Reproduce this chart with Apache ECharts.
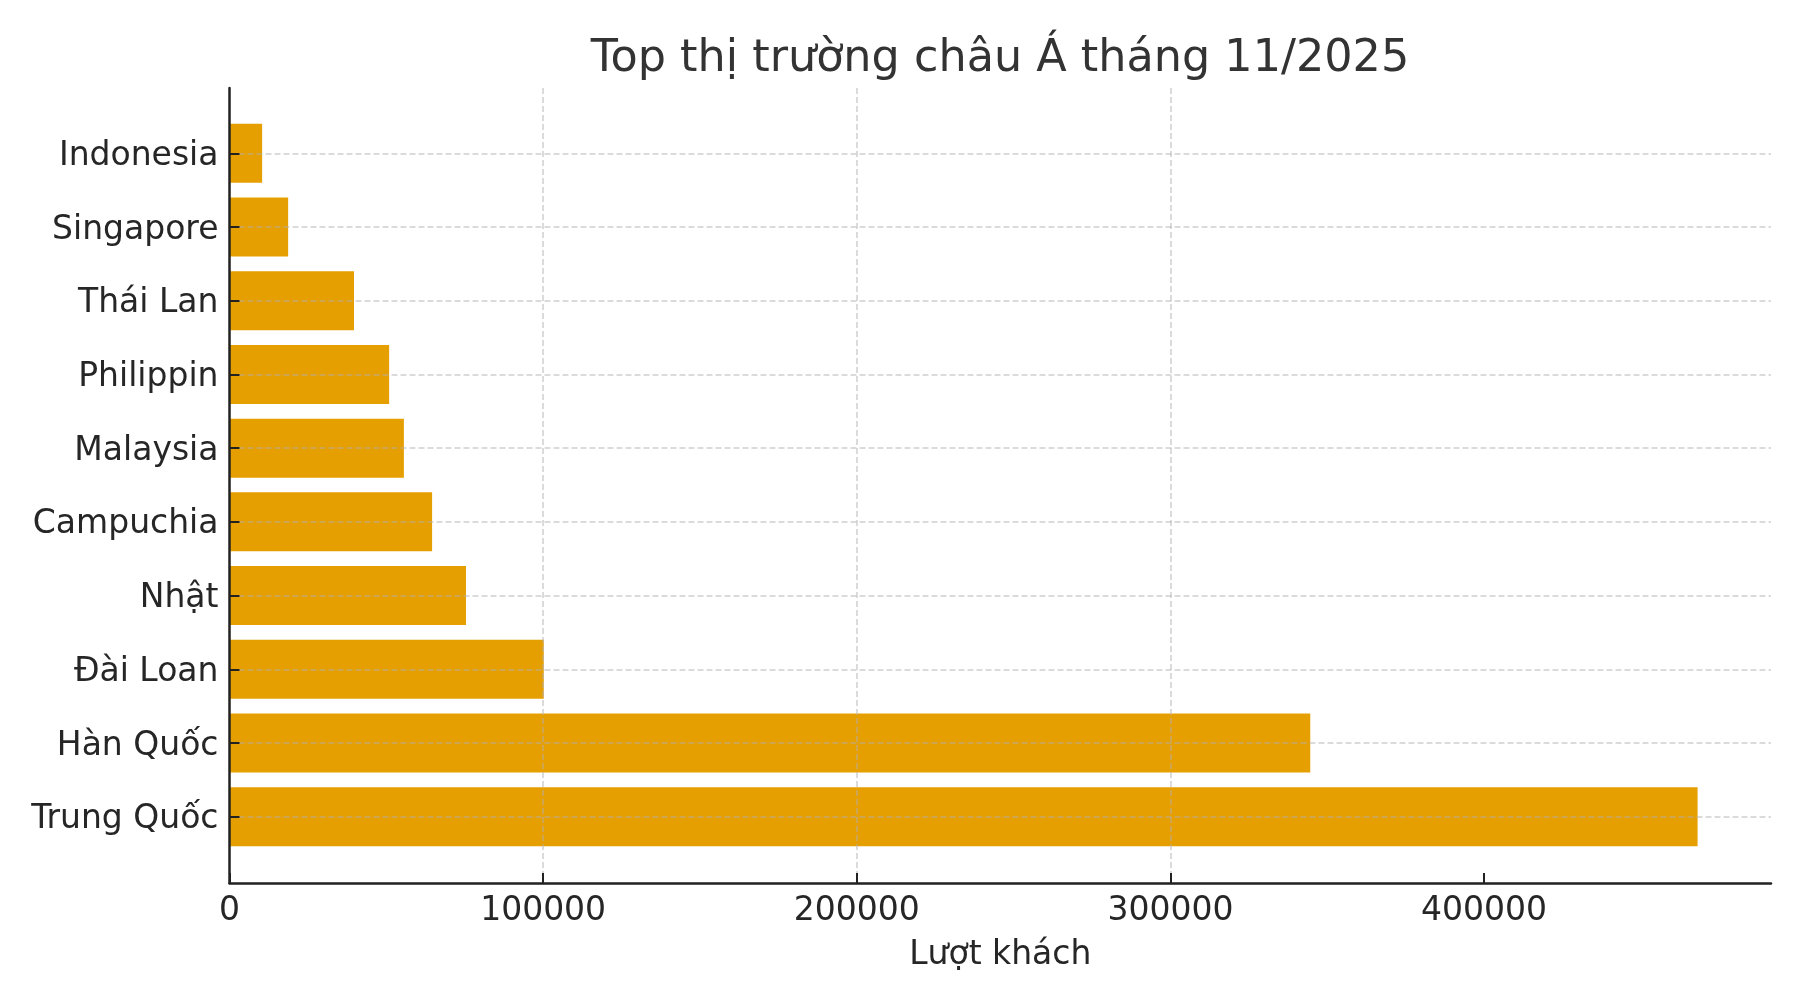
<!DOCTYPE html>
<html>
<head>
<meta charset="utf-8">
<script src="https://cdn.jsdelivr.net/npm/echarts@6/dist/echarts.min.js"></script>
<style>html,body{margin:0;padding:0;background:#fff}#c{width:1800px;height:1000px}</style>
</head>
<body>
<div id="c"></div>
<script>
const categories = ['Trung Quốc', 'Hàn Quốc', 'Đài Loan', 'Nhật', 'Campuchia', 'Malaysia', 'Philippin', 'Thái Lan', 'Singapore', 'Indonesia'];
const visitors = [468100, 344600, 100200, 75400, 64600, 55600, 50900, 39700, 18700, 10400];
const xTicks = [0, 100000, 200000, 300000, 400000];
const titleText = 'Top thị trường châu Á tháng 11/2025';
const xName = 'Lượt khách';

const xMax = Math.max(...visitors) * 1.05;
const FONT = 'DejaVu Sans';
const gridStyle = { color: 'rgba(176,176,176,0.6)', width: 1.5, type: [6, 3] };

const chart = echarts.init(document.getElementById('c'), null, { renderer: 'canvas' });
chart.setOption({
  backgroundColor: '#ffffff',
  animation: false,
  title: {
    text: titleText, left: 1000, top: 37, textAlign: 'center', padding: 0,
    textStyle: { fontFamily: FONT, fontSize: 44.5, fontWeight: 'normal', color: '#333333' }
  },
  grid: [
    { left: 229.5, right: 29, top: 153.3, bottom: 183.3, containLabel: false },
    { left: 229.5, right: 29, top: 88, bottom: 117, containLabel: false }
  ],
  xAxis: [
    { gridIndex: 0, type: 'value', min: 0, max: xMax, show: false },
    {
      gridIndex: 1, type: 'value', min: 0, max: xMax, interval: 100000, z: 5,
      name: xName, nameLocation: 'middle', nameGap: 55.5,
      nameTextStyle: { fontFamily: FONT, fontSize: 33, color: '#262626' },
      axisLine: { show: true, lineStyle: { color: '#222222', width: 2.5 } },
      axisTick: { show: true, inside: true, length: 10, customValues: xTicks, lineStyle: { color: '#222222', width: 2 } },
      axisLabel: { fontFamily: FONT, fontSize: 33, color: '#262626', margin: 11.5, customValues: xTicks, formatter: v => String(v) },
      splitLine: { show: true, showMinLine: false, showMaxLine: false, lineStyle: gridStyle }
    }
  ],
  yAxis: [
    {
      gridIndex: 0, type: 'category', data: categories, boundaryGap: false, z: 5,
      axisLine: { show: false },
      axisTick: { show: true, inside: true, length: 10, lineStyle: { color: '#222222', width: 2 } },
      axisLabel: {
        margin: 11,
        formatter: v => '{a|' + v + '}',
        rich: { a: { fontFamily: FONT, fontSize: 33, color: '#262626', padding: [6, 0, 0, 0] } }
      },
      splitLine: { show: true, lineStyle: gridStyle }
    },
    {
      gridIndex: 1, type: 'value', min: 0, max: 1, z: 6,
      axisLine: { show: true, lineStyle: { color: '#222222', width: 2.5 } },
      axisTick: { show: false }, axisLabel: { show: false }, splitLine: { show: false }
    }
  ],
  series: [{
    type: 'bar', xAxisIndex: 0, yAxisIndex: 0, data: visitors,
    barWidth: 59, clip: false,
    itemStyle: { color: '#E69F00' }
  }]
});
</script>
</body>
</html>
